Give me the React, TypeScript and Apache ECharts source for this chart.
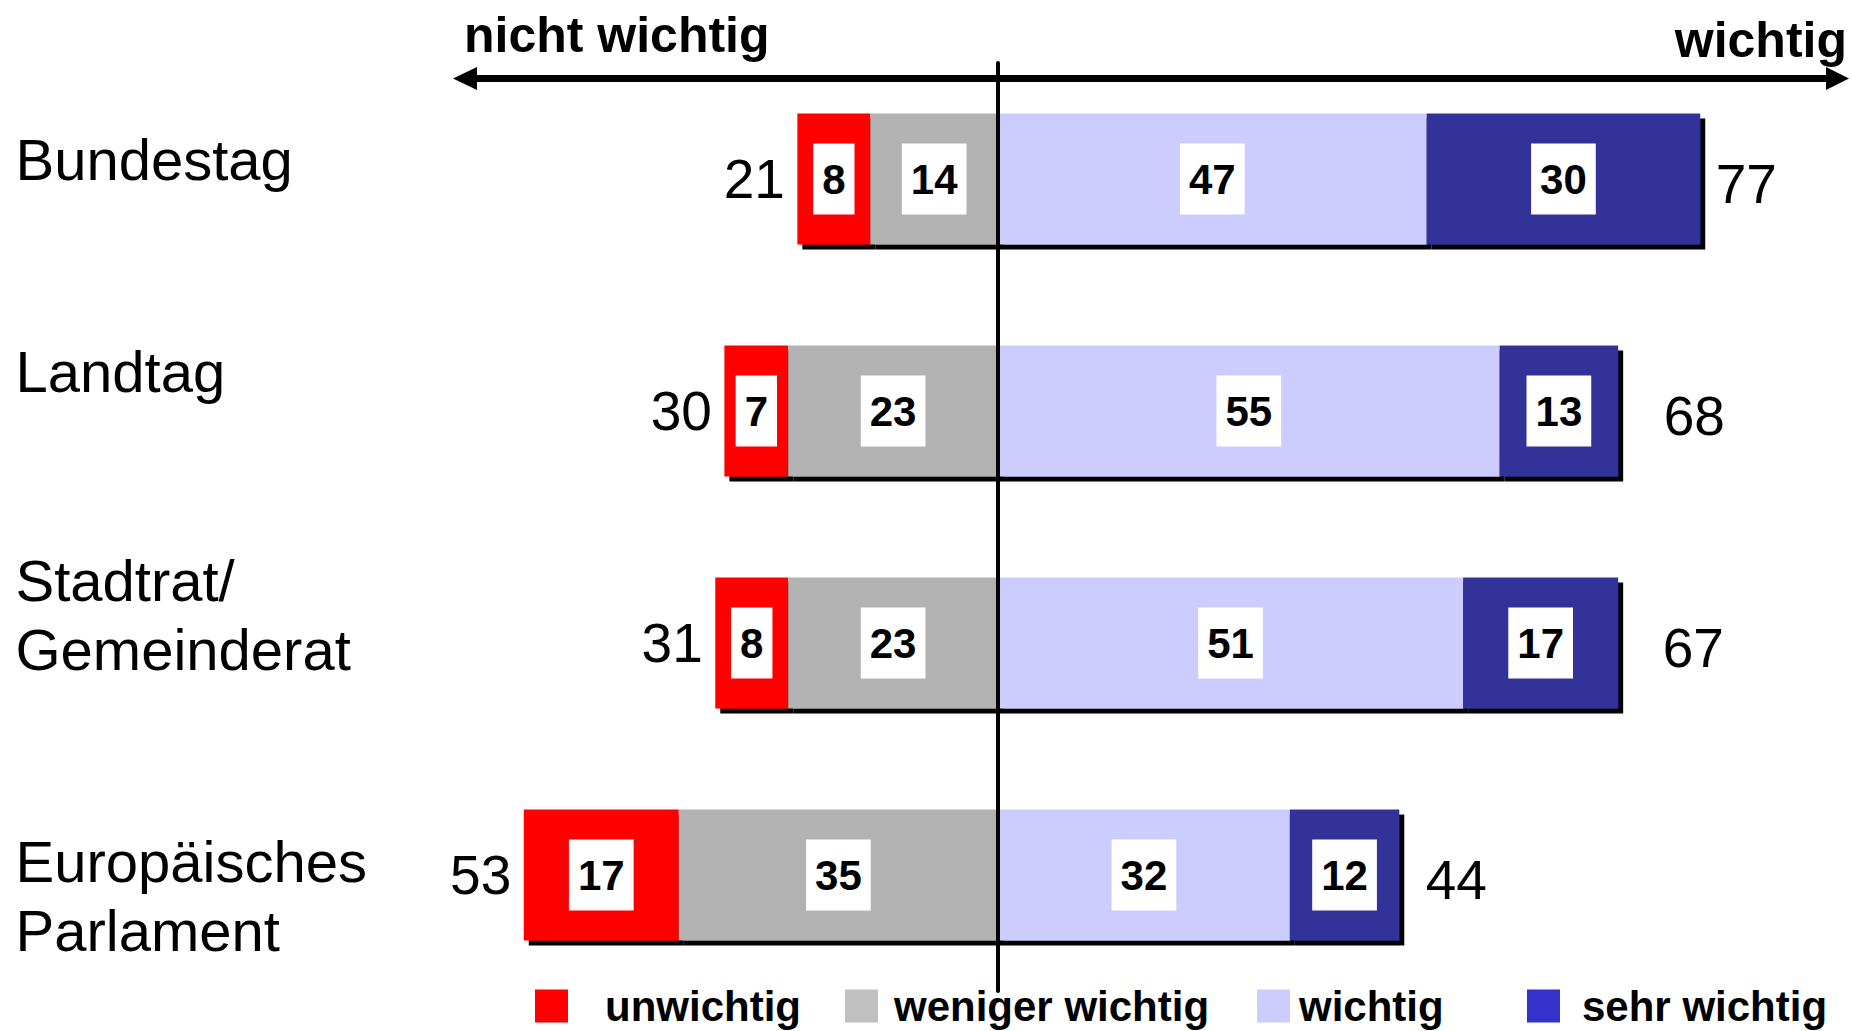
import React, { useEffect, useRef } from 'react';
import * as echarts from 'echarts';

const categories = ['Bundestag', 'Landtag', 'Stadtrat/\nGemeinderat', 'Europäisches\nParlament'];
const unwichtig = [8, 7, 8, 17];
const wenigerWichtig = [14, 23, 23, 35];
const wichtig = [47, 55, 51, 32];
const sehrWichtig = [30, 13, 17, 12];
const totalNichtWichtig = [21, 30, 31, 53];
const totalWichtig = [77, 68, 67, 44];
const legendNames = ['unwichtig', 'weniger wichtig', 'wichtig', 'sehr wichtig'];
const titleLeft = 'nicht wichtig';
const titleRight = 'wichtig';

// styling (not data)
const FONT = '"Liberation Sans", Arial, Helvetica, sans-serif';
const X_MIN = -60;
const X_MAX = 90;
const GRID_LEFT = 450.8;
const CAT_LABEL_X = 16;
const catLabelShift = [-20, -40, -28, 21];
const rightGap = [15, 45, 44, 26];
const barColors = ['#FF0000', '#B2B2B2', '#CCCCFF', '#333399'];
const legendColors = ['#FF0000', '#C0C0C0', '#CCCCFF', '#3333CC'];
const legendLeft = [535, 845, 1257, 1527];
const legendTextPad = [32, 11, 4, 17];

export default function App() {
  const ref = useRef<HTMLDivElement>(null);
  useEffect(() => {
    const chart = echarts.init(ref.current!, null, { renderer: 'svg' });
    const shadow = { shadowColor: '#000', shadowOffsetX: 5, shadowOffsetY: 5, shadowBlur: 0 };
    const innerLabel = {
      show: true,
      position: 'inside',
      formatter: (p: any) => String(Math.abs(p.value)),
      backgroundColor: '#fff',
      color: '#000',
      fontFamily: FONT,
      fontSize: 42,
      fontWeight: 'bold',
      lineHeight: 42,
      padding: [15, 9, 14, 9],
    };
    const bar = (name: string, data: number[], color: string, z: number) => ({
      name,
      type: 'bar',
      stack: 'total',
      barWidth: 131,
      z,
      data,
      itemStyle: { color, ...shadow },
      label: innerLabel,
      emphasis: { disabled: true },
    });
    const totalLabel = {
      show: true,
      fontSize: 55,
      color: '#000',
      opacity: 1,
      fontFamily: FONT,
    };
    const invisible = { color: 'rgba(255,255,255,0)', opacity: 1 };
    const option: any = {
      animation: false,
      grid: { left: GRID_LEFT, right: 33.2, top: 63, bottom: 40, containLabel: false, outerBoundsMode: 'none' },
      xAxis: { type: 'value', min: X_MIN, max: X_MAX, show: false },
      yAxis: {
        type: 'category',
        inverse: true,
        z: 10,
        data: categories,
        axisLine: { show: true, onZero: true, lineStyle: { color: '#000', width: 4 } },
        axisTick: { show: false },
        splitLine: { show: false },
        axisLabel: { show: false },
      },
      legend: legendNames.map((n, i) => ({
        left: legendLeft[i],
        top: 985,
        padding: 0,
        itemWidth: 33,
        itemHeight: 33,
        icon: 'rect',
        selectedMode: false,
        data: [{ name: n, itemStyle: { color: legendColors[i], shadowBlur: 0, shadowOffsetX: 0, shadowOffsetY: 0, shadowColor: 'transparent' } }],
        textStyle: {
          fontSize: 42,
          fontWeight: 'bold',
          color: '#000',
          fontFamily: FONT,
          lineHeight: 33,
          padding: [0, 0, 0, legendTextPad[i]],
        },
      })),
      series: [
        bar(legendNames[1], wenigerWichtig.map((v) => -v), barColors[1], 3),
        bar(legendNames[0], unwichtig.map((v) => -v), barColors[0], 2),
        bar(legendNames[2], wichtig, barColors[2], 4),
        bar(legendNames[3], sehrWichtig, barColors[3], 5),
        {
          // category names
          type: 'scatter',
          z: 6,
          symbolSize: 1,
          silent: true,
          itemStyle: invisible,
          data: categories.map((c, i) => ({
            value: [X_MIN, i],
            label: { position: [CAT_LABEL_X - GRID_LEFT, 0.5 + catLabelShift[i]] },
          })),
          label: {
            show: true,
            align: 'left',
            verticalAlign: 'middle',
            fontSize: 58,
            lineHeight: 69,
            color: '#000',
            fontFamily: FONT,
            formatter: (p: any) => categories[p.dataIndex],
          },
        },
        {
          type: 'scatter',
          z: 6,
          symbolSize: 1,
          silent: true,
          itemStyle: invisible,
          data: categories.map((c, i) => [-(unwichtig[i] + wenigerWichtig[i]), i]),
          label: {
            ...totalLabel,
            position: 'left',
            distance: 12,
            formatter: (p: any) => String(totalNichtWichtig[p.dataIndex]),
          },
        },
        {
          type: 'scatter',
          z: 6,
          symbolSize: 1,
          silent: true,
          itemStyle: invisible,
          data: categories.map((c, i) => ({
            value: [wichtig[i] + sehrWichtig[i], i],
            label: { distance: rightGap[i] },
          })),
          label: {
            ...totalLabel,
            position: 'right',
            offset: [0, 5],
            formatter: (p: any) => String(totalWichtig[p.dataIndex]),
          },
        },
      ],
      graphic: [
        {
          type: 'text',
          x: 464,
          y: 35,
          style: { text: titleLeft, fontSize: 50, fontWeight: 'bold', fontFamily: FONT, fill: '#000', align: 'left', verticalAlign: 'middle' },
        },
        {
          type: 'text',
          x: 1847,
          y: 40,
          style: { text: titleRight, fontSize: 50, fontWeight: 'bold', fontFamily: FONT, fill: '#000', align: 'right', verticalAlign: 'middle' },
        },
        {
          type: 'line',
          shape: { x1: 470, y1: 78.5, x2: 1832, y2: 78.5 },
          style: { stroke: '#000', lineWidth: 7 },
        },
        {
          type: 'polygon',
          shape: { points: [[453, 78.5], [477, 67], [477, 90]] },
          style: { fill: '#000' },
        },
        {
          type: 'polygon',
          shape: { points: [[1849, 78.5], [1826, 67], [1826, 90]] },
          style: { fill: '#000' },
        },
      ],
    };
    chart.setOption(option);
    return () => chart.dispose();
  }, []);
  return (
    <div
      ref={ref}
      style={{ position: 'absolute', left: 0, top: 0, width: 1852, height: 1031, background: '#fff' }}
    />
  );
}
